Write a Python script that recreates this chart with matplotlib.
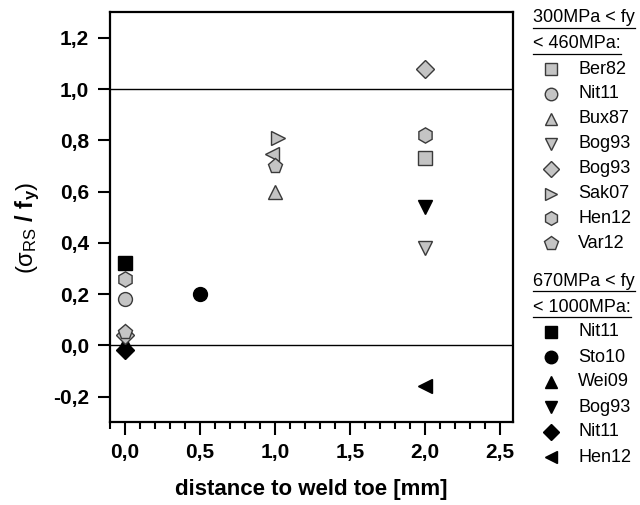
import matplotlib
matplotlib.use("Agg")
import matplotlib.pyplot as plt
from matplotlib.lines import Line2D
from matplotlib.ticker import MultipleLocator

plt.rcParams['font.family'] = ['Liberation Sans', 'DejaVu Sans']
plt.rcParams['mathtext.fontset'] = 'custom'
plt.rcParams['mathtext.rm'] = 'Liberation Sans'
plt.rcParams['mathtext.bf'] = 'Liberation Sans:bold'
plt.rcParams['mathtext.it'] = 'Liberation Sans:italic'

# ---- data ----
group1_title = ["300MPa < fy", "< 460MPa:"]
group1_names = ["Ber82", "Nit11", "Bux87", "Bog93", "Bog93", "Sak07", "Hen12", "Var12"]
group1_markers = ["s", "o", "^", "v", "D", ">", "h", "p"]
group1_x = [[2.0], [0.0], [1.0], [2.0], [2.0, 0.0], [1.02], [2.0, 0.0], [1.0, 0.0]]
group1_y = [[0.73], [0.18], [0.60], [0.38], [1.08, 0.04], [0.81], [0.82, 0.26], [0.70, 0.05]]

extra_x = [0.98]          # partly hidden gray marker at x=1.0
extra_y = [0.745]

group2_title = ["670MPa < fy", "< 1000MPa:"]
group2_names = ["Nit11", "Sto10", "Wei09", "Bog93", "Nit11", "Hen12"]
group2_markers = ["s", "o", "^", "v", "D", "<"]
group2_x = [[0.0], [0.5], [0.0], [2.0], [0.0], [2.0]]
group2_y = [[0.32], [0.20], [0.01], [0.54], [-0.02], [-0.16]]

y_ticks = [-0.2, 0.0, 0.2, 0.4, 0.6, 0.8, 1.0, 1.2]
y_ticklabels = ["-0,2", "0,0", "0,2", "0,4", "0,6", "0,8", "1,0", "1,2"]
x_ticks = [0.0, 0.5, 1.0, 1.5, 2.0, 2.5]
x_ticklabels = ["0,0", "0,5", "1,0", "1,5", "2,0", "2,5"]

GRAY = "#c4c4c4"
EDGE = "#3a3a3a"
MS = {"s": 9.5, "o": 10, "^": 10, "v": 10, "D": 9, ">": 10, "<": 10, "h": 11, "p": 11}

fig = plt.figure(figsize=(6.4, 5.05), dpi=100)
ax = fig.add_axes([0.172, 0.164, 0.630, 0.812])

ax.axhline(1.0, color="black", lw=1.0, zorder=1)
ax.axhline(0.0, color="black", lw=1.0, zorder=1)

for m, xs, ys in zip(group1_markers, group1_x, group1_y):
    ax.plot(xs, ys, linestyle="none", marker=m, ms=MS[m], mfc=GRAY, mec=EDGE, mew=1.0, zorder=3)
ax.plot(extra_x, extra_y, linestyle="none", marker="<", ms=10, mfc=GRAY, mec=EDGE, mew=1.0, zorder=2)
for m, xs, ys in zip(group2_markers, group2_x, group2_y):
    ax.plot(xs, ys, linestyle="none", marker=m, ms=MS[m], mfc="black", mec="black", mew=1.0, zorder=2)

ax.set_xlim(-0.1, 2.59)
ax.set_ylim(-0.3, 1.3)
ax.set_xticks(x_ticks)
ax.set_xticklabels(x_ticklabels, fontsize=15, fontweight="bold")
ax.xaxis.set_minor_locator(MultipleLocator(0.1))
ax.set_yticks(y_ticks)
ax.set_yticklabels(y_ticklabels, fontsize=15, fontweight="bold")
ax.tick_params(axis="both", which="major", direction="out", length=9, width=1.5, pad=6)
ax.tick_params(axis="x", which="minor", direction="out", length=5, width=1.5)
for s in ax.spines.values():
    s.set_linewidth(1.6)

ax.set_xlabel("distance to weld toe [mm]", fontsize=16, fontweight="bold", labelpad=12)
ax.set_ylabel(r"($\mathrm{\sigma}_{\mathrm{RS}}$ $\mathbf{/\ f_y}$)", fontsize=17)
ax.yaxis.set_label_coords(-0.17, 0.473)

# ---- manual legend ----
W, H = 640, 505
def fx(px): return px / W
def fy(py): return 1 - py / H

LFS = 13
def title_line(text, ypx):
    t = fig.text(fx(533), fy(ypx), text, fontsize=LFS, va="center", ha="left")
    fig.canvas.draw()
    bb = t.get_window_extent()
    fig.add_artist(Line2D([bb.x0 / W, bb.x1 / W], [fy(ypx + 10)] * 2, color="black", lw=0.9))

y0 = 18
for i, t in enumerate(group1_title):
    title_line(t, y0 + i * 26)
for i, (n, m) in enumerate(zip(group1_names, group1_markers)):
    ypx = 69 + i * 24.9
    fig.add_artist(Line2D([fx(551)], [fy(ypx)], marker=m, ms=MS[m] * 0.9, mfc=GRAY, mec=EDGE, mew=1.0, linestyle="none"))
    fig.text(fx(578), fy(ypx), n, fontsize=LFS, va="center", ha="left")

y1 = 281
for i, t in enumerate(group2_title):
    title_line(t, y1 + i * 26)
for i, (n, m) in enumerate(zip(group2_names, group2_markers)):
    ypx = 332 + i * 25
    fig.add_artist(Line2D([fx(551)], [fy(ypx)], marker=m, ms=MS[m] * 0.9, mfc="black", mec="black", mew=1.0, linestyle="none"))
    fig.text(fx(578), fy(ypx), n, fontsize=LFS, va="center", ha="left")

fig.savefig("out.png", dpi=100)
